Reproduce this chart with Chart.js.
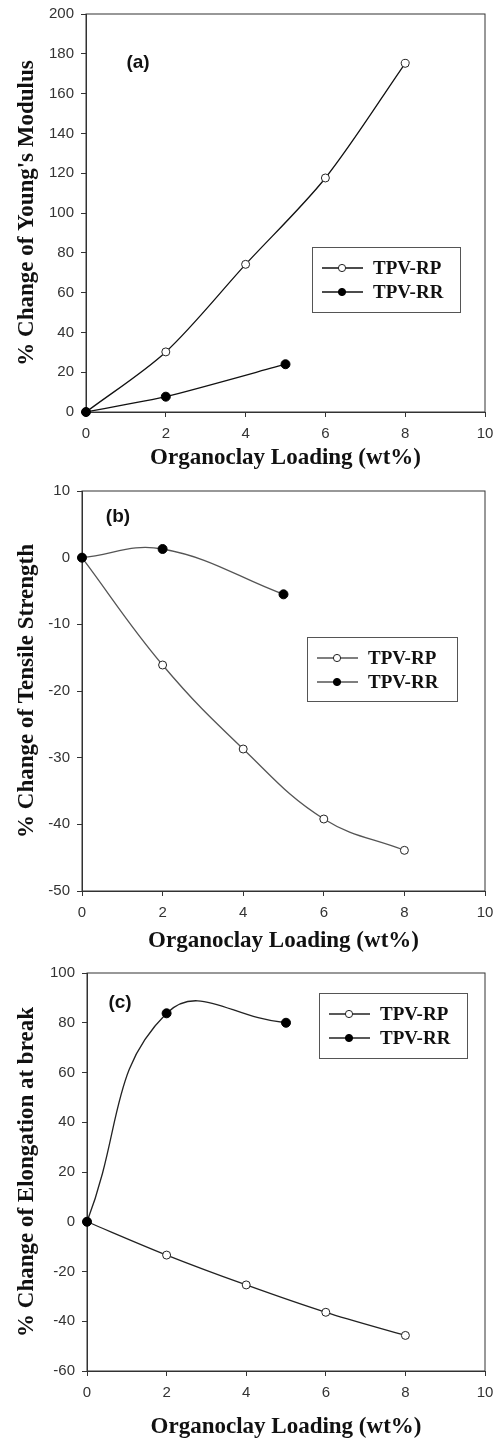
<!DOCTYPE html>
<html>
<head>
<meta charset="utf-8">
<script src="https://cdn.jsdelivr.net/npm/chart.js@4.4.1/dist/chart.umd.min.js"></script>
<style>
  body { margin: 0; background: #fff; }
  .panel { position: absolute; left: 0; width: 495px; }
  canvas { display: block; }
</style>
</head>
<body>
<div class="panel" style="top:0px"><canvas id="chartA" width="495" height="475"></canvas></div>
<div class="panel" style="top:475px"><canvas id="chartB" width="495" height="483"></canvas></div>
<div class="panel" style="top:958px"><canvas id="chartC" width="495" height="486"></canvas></div>
<script>
// data
const seriesNames = ['TPV-RP', 'TPV-RR'];
const rpLoading = [0, 2, 4, 6, 8];
const rrLoading = [0, 2, 5];

const modulusRP = [0, 30.2, 74.2, 117.6, 175.2];
const modulusRR = [0, 7.7, 24];
const tensileRP = [0, -16.1, -28.7, -39.2, -43.9];
const tensileRR = [0, 1.3, -5.5];
const elongRP = [0, -13.4, -25.4, -36.4, -45.7];
const elongRR = [0, 83.8, 80];

const xTitle = 'Organoclay Loading (wt%)';
const xTicks = { min: 0, max: 10, step: 2 };
const yTitles = ['% Change of Young\'s Modulus', '% Change of Tensile Strength', '% Change of Elongation at break'];
const panelLabels = ['(a)', '(b)', '(c)'];

const tickFont = { family: 'Liberation Sans, Arial, sans-serif', size: 15 };
const titleFont = { family: 'Liberation Serif, Times New Roman, serif', size: 23, weight: 'bold' };

const toPoints = (xs, ys) => xs.map((x, i) => ({ x: x, y: ys[i] }));

const framePlugin = {
  id: 'frame',
  beforeDatasetsDraw(chart) {
    const { ctx, chartArea: a } = chart;
    ctx.save();
    ctx.strokeStyle = '#333';
    ctx.lineWidth = 1;
    ctx.strokeRect(a.left, a.top, a.width, a.height);
    ctx.restore();
  },
  afterDraw(chart, args, opts) {
    const ctx = chart.ctx;
    ctx.save();
    // panel label
    ctx.fillStyle = '#111';
    ctx.font = 'bold 19px Liberation Sans, Arial, sans-serif';
    ctx.textAlign = 'center';
    ctx.textBaseline = 'middle';
    ctx.fillText(opts.label, opts.labelX, opts.labelY);

    // legend box
    const [bx, by, bw, bh] = opts.box;
    ctx.fillStyle = '#fff';
    ctx.fillRect(bx, by, bw, bh);
    ctx.strokeStyle = '#555';
    ctx.lineWidth = 1;
    ctx.strokeRect(bx + 0.5, by + 0.5, bw, bh);
    ctx.font = 'bold 19px Liberation Serif, Times New Roman, serif';
    ctx.textAlign = 'left';
    chart.data.datasets.forEach((ds, i) => {
      const y = by + 21 + i * 24;
      ctx.strokeStyle = ds.borderColor;
      ctx.lineWidth = ds.borderWidth;
      ctx.beginPath();
      ctx.moveTo(bx + 10, y);
      ctx.lineTo(bx + 51, y);
      ctx.stroke();
      ctx.beginPath();
      ctx.arc(bx + 30, y, 3.6, 0, Math.PI * 2);
      ctx.fillStyle = ds.pointBackgroundColor;
      ctx.fill();
      ctx.strokeStyle = ds.pointBorderColor;
      ctx.lineWidth = 1;
      ctx.stroke();
      ctx.fillStyle = '#111';
      ctx.fillText(ds.label, bx + 61, y + 1);
    });
    ctx.restore();
  }
};

function makeChart(id, idx, rp, rr, yRange, layout) {
  const lineColor = layout.lineColor;
  new Chart(document.getElementById(id), {
    type: 'line',
    data: {
      datasets: [{
        label: seriesNames[0],
        data: toPoints(rpLoading, rp),
        borderColor: lineColor,
        borderWidth: 1.3,
        tension: layout.tension,
        pointRadius: 4,
        pointBackgroundColor: '#fff',
        pointBorderColor: '#222',
        pointBorderWidth: 1,
        order: 1,
        clip: false
      }, {
        label: seriesNames[1],
        data: toPoints(rrLoading, rr),
        borderColor: lineColor,
        borderWidth: 1.3,
        tension: layout.tensionRR,
        pointRadius: 4.5,
        pointBackgroundColor: '#000',
        pointBorderColor: '#000',
        pointBorderWidth: 1,
        order: 0,
        clip: false
      }]
    },
    options: {
      responsive: false,
      animation: false,
      events: [],
      layout: { padding: { left: 0, right: 10, top: layout.top, bottom: 0 } },
      plugins: {
        legend: { display: false },
        tooltip: { enabled: false },
        frame: {
          label: panelLabels[idx],
          labelX: layout.labelX,
          labelY: layout.labelY,
          box: layout.box
        }
      },
      scales: {
        x: {
          type: 'linear',
          min: xTicks.min,
          max: xTicks.max,
          ticks: { stepSize: xTicks.step, color: '#333', font: tickFont, padding: 8, maxRotation: 0 },
          grid: { drawOnChartArea: false, tickLength: 5, color: '#333' },
          border: { display: true, color: '#333' },
          title: { display: true, text: xTitle, color: '#111', font: titleFont, padding: { top: 0, bottom: 3 } },
          afterFit: (s) => { s.height = layout.xHeight; s.paddingLeft = 0; s.paddingRight = 0; }
        },
        y: {
          min: yRange[0],
          max: yRange[1],
          ticks: { stepSize: yRange[2], color: '#333', font: tickFont, padding: 7 },
          grid: { drawOnChartArea: false, tickLength: 5, color: '#333' },
          border: { display: true, color: '#333' },
          title: { display: true, text: yTitles[idx], color: '#111', font: titleFont, padding: { top: 13, bottom: 0 } },
          afterFit: (s) => { s.width = layout.left; s.paddingTop = 0; s.paddingBottom = 0; }
        }
      }
    },
    plugins: [framePlugin]
  });
}

makeChart('chartA', 0, modulusRP, modulusRR, [0, 200, 20], {
  left: 86, top: 14, xHeight: 63, lineColor: '#111', tension: 0.3, tensionRR: 0.2,
  labelX: 138, labelY: 63, box: [312, 247, 148, 65]
});
makeChart('chartB', 1, tensileRP, tensileRR, [-50, 10, 10], {
  left: 82, top: 16, xHeight: 67, lineColor: '#555', tension: 0.4, tensionRR: 0.4,
  labelX: 118, labelY: 42, box: [307, 162, 150, 64]
});
makeChart('chartC', 2, elongRP, elongRR, [-60, 100, 20], {
  left: 87, top: 15, xHeight: 73, lineColor: '#222', tension: 0.3, tensionRR: 0.45,
  labelX: 120, labelY: 45, box: [319, 35, 148, 65]
});
</script>
</body>
</html>
